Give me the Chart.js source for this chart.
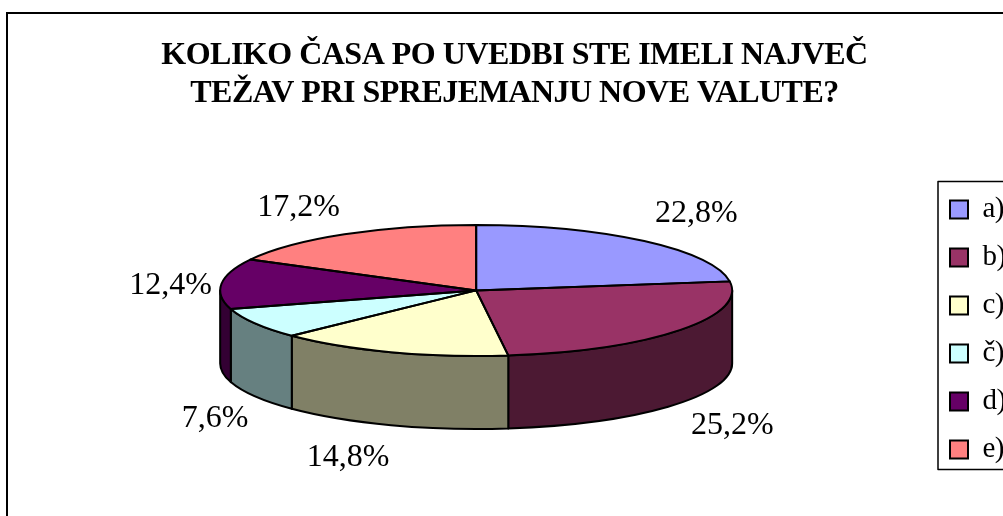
<!DOCTYPE html>
<html>
<head>
<meta charset="utf-8">
<style>
html,body{margin:0;padding:0;background:#fff;overflow:hidden;width:1003px;height:516px}
canvas{display:block}
</style>
<script src="https://cdn.jsdelivr.net/npm/chart.js@4/dist/chart.umd.min.js"></script>
</head>
<body>
<div style="width:1003px;height:516px;overflow:hidden"><canvas id="c" width="1028" height="600"></canvas></div>
<script>
const titleLines = ['KOLIKO ČASA PO UVEDBI STE IMELI NAJVEČ', 'TEŽAV PRI SPREJEMANJU NOVE VALUTE?'];
const categories = ['a)', 'b)', 'c)', 'č)', 'd)', 'e)'];
const values = [22.8, 25.2, 14.8, 7.6, 12.4, 17.2];
const topColors = ['#9999FF', '#993366', '#FFFFCC', '#CCFFFF', '#660066', '#FF8080'];
const sideColors = ['#4C4C80', '#4C1933', '#808066', '#668080', '#330033', '#804040'];
const labelOffsets = [[52,-29],[53,94],[-43,104],[-40,94],[-51,0],[-46,-28]];

const RX = 256, RY = 65.5, DEPTH = 73, FONT = '"Liberation Serif"';
const FRAME = {x:7, y:13};
const LEGEND_LEFT = 931, LEGEND_SHIFT = 99.5, LEGEND_BOX_INSET = 7, LEGEND_BOX_H = 288, LEGEND_BOX_DY = -4;
const TITLE_SHIFT = 4.5, LABEL_DY = 1.5;

const pie3d = {
  id: 'pie3d',
  afterLayout(chart) {
    const l = chart.legend;
    const w = l.right - l.left;
    l.left = LEGEND_LEFT; l.right = LEGEND_LEFT + w;
    l.top += LEGEND_SHIFT; l.bottom += LEGEND_SHIFT;
    const t = chart.titleBlock;
    t.left -= TITLE_SHIFT; t.right -= TITLE_SHIFT;
  },
  beforeDraw(chart) {
    const ctx = chart.ctx;
    ctx.save();
    ctx.fillStyle = '#fff';
    ctx.fillRect(0, 0, chart.width, chart.height);
    ctx.strokeStyle = '#000';
    ctx.lineWidth = 2;
    ctx.strokeRect(FRAME.x, FRAME.y, chart.width + 50, chart.height + 50);
    ctx.restore();
    ctx.letterSpacing = '-0.5px';
  },
  beforeDatasetsDraw(chart) {
    const ctx = chart.ctx;
    ctx.letterSpacing = '0px';
    const arcs = chart.getDatasetMeta(0).data;
    ctx.save();
    ctx.lineWidth = 2;
    ctx.strokeStyle = '#000';
    ctx.lineJoin = 'round';
    arcs.forEach((a, i) => {
      const s = Math.max(a.startAngle, 0), e = Math.min(a.endAngle, Math.PI);
      if (e <= s) return;
      ctx.beginPath();
      ctx.ellipse(a.x, a.y, RX, RY, 0, s, e);
      ctx.ellipse(a.x, a.y + DEPTH, RX, RY, 0, e, s, true);
      ctx.closePath();
      ctx.fillStyle = sideColors[i];
      ctx.fill();
      ctx.stroke();
    });
    ctx.restore();
    const c = arcs[0];
    ctx.save();
    ctx.translate(c.x, c.y);
    ctx.scale(1, RY / RX);
    ctx.translate(-c.x, -c.y);
  },
  afterDatasetsDraw(chart) {
    const ctx = chart.ctx;
    ctx.restore();
    const arcs = chart.getDatasetMeta(0).data;
    ctx.save();
    ctx.lineWidth = 2;
    ctx.strokeStyle = '#000';
    ctx.lineJoin = 'round';
    arcs.forEach(a => {
      ctx.beginPath();
      ctx.moveTo(a.x, a.y);
      ctx.ellipse(a.x, a.y, RX, RY, 0, a.startAngle, a.endAngle);
      ctx.closePath();
      ctx.stroke();
    });
    ctx.fillStyle = '#000';
    ctx.font = '32px ' + FONT;
    ctx.textAlign = 'center';
    ctx.textBaseline = 'middle';
    arcs.forEach((a, i) => {
      const m = (a.startAngle + a.endAngle) / 2;
      const x = a.x + RX * Math.cos(m) + labelOffsets[i][0];
      const y = a.y + RY * Math.sin(m) + labelOffsets[i][1] + LABEL_DY;
      ctx.fillText(values[i].toFixed(1).replace('.', ',') + '%', x, y);
    });
    const l = chart.legend;
    const midY = (l.top + l.bottom) / 2 + LEGEND_BOX_DY;
    ctx.lineWidth = 1.5;
    ctx.strokeStyle = '#000';
    ctx.strokeRect(l.left + LEGEND_BOX_INSET, midY - LEGEND_BOX_H / 2, 200, LEGEND_BOX_H);
    ctx.restore();
  }
};

new Chart(document.getElementById('c'), {
  type: 'pie',
  data: {
    labels: categories,
    datasets: [{ data: values, backgroundColor: topColors, borderWidth: 0, clip: false, radius: RX }]
  },
  options: {
    responsive: false,
    animation: false,
    events: [],
    layout: { padding: { left: 10, bottom: 140, right: 0, top: 0 } },
    plugins: {
      tooltip: { enabled: false },
      title: {
        display: true,
        text: titleLines,
        color: '#000',
        font: { family: FONT, size: 32, weight: 'bold', lineHeight: 1.2 },
        padding: { top: 36.5, bottom: 7.5 }
      },
      legend: {
        position: 'right',
        labels: {
          color: '#000',
          font: { family: FONT, size: 29 },
          boxWidth: 18,
          boxHeight: 18,
          padding: 19,
          generateLabels(chart) {
            return categories.map((t, i) => ({
              text: t, fillStyle: topColors[i], strokeStyle: '#000', lineWidth: 2, index: i, hidden: false
            }));
          }
        }
      }
    }
  },
  plugins: [pie3d]
});
</script>
</body>
</html>
